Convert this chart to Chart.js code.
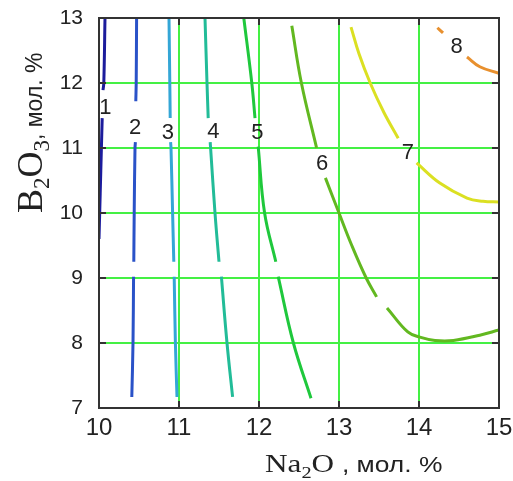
<!DOCTYPE html>
<html>
<head>
<meta charset="utf-8">
<script src="https://cdn.jsdelivr.net/npm/chart.js@4.4.1/dist/chart.umd.min.js"></script>
<style>
body { margin: 0; background: #fff; }
</style>
</head>
<body>
<canvas id="chart" width="513" height="481"></canvas>
<script>
const xTicks = [10, 11, 12, 13, 14, 15]
const yTicks = [7, 8, 9, 10, 11, 12, 13]

// contour lines, null = break in the line
const line1X = [10.075, 10.06, 10.05, null, 10.04, 10.03, 10.015, 10.0]
const line1Y = [13, 12.0, 11.89, null, 11.46, 11.0, 10.3, 9.6]

const line2X = [10.47, 10.465, 10.46, null, 10.455, 10.45, 10.44, 10.435, null, 10.432, 10.425, 10.41]
const line2Y = [13, 12, 11.72, null, 11.09, 11.0, 10.0, 9.25, null, 9.02, 8.0, 7.17]

const line3X = [10.875, 10.885, 10.89, null, 10.895, 10.9, 10.92, 10.935, null, 10.94, 10.955, 10.975]
const line3Y = [13, 12, 11.46, null, 11.09, 11.0, 10.0, 9.25, null, 9.02, 8.0, 7.17]

const line4X = [11.325, 11.35, 11.365, null, 11.39, 11.395, 11.45, 11.5, null, 11.53, 11.6, 11.67]
const line4Y = [13, 12, 11.46, null, 11.09, 11.0, 10.0, 9.25, null, 9.02, 8.0, 7.17]

const line5X = [11.81, 11.91, 11.95, null, 11.99, 12.07, 12.21, null, 12.24, 12.43, 12.65]
const line5Y = [13, 12, 11.46, null, 11.02, 10.0, 9.25, null, 9.02, 8.0, 7.15]

const line6X = [12.41, 12.53, 12.72, null, 12.83, 13.0, 13.16, 13.34, 13.47, null, 13.6, 13.86, 14.01, 14.2, 14.43, 14.76, 15.0]
const line6Y = [12.88, 12.0, 11.0, null, 10.54, 10.0, 9.5, 9.0, 8.71, null, 8.54, 8.17, 8.09, 8.04, 8.04, 8.12, 8.2]

const line7X = [13.15, 13.25, 13.39, 13.56, 13.74, null, 13.97, 14.26, 14.6, 14.8, 15.0]
const line7Y = [12.86, 12.45, 12.0, 11.55, 11.15, null, 10.77, 10.46, 10.23, 10.18, 10.17]

const line8X = [14.23, 14.3, null, 14.6, 14.76, 15.0]
const line8Y = [12.85, 12.77, null, 12.4, 12.25, 12.15]

const lineColors = ['#1c1c9c', '#2a52c8', '#34a6d6', '#22bc98', '#1fc83c', '#62b820', '#dbe022', '#e8902e']

// contour level labels
const labelText = ['1', '2', '3', '4', '5', '6', '7', '8']
const labelX = [10.08, 10.45, 10.86, 11.43, 11.98, 12.79, 13.86, 14.47]
const labelY = [11.62, 11.31, 11.23, 11.25, 11.23, 10.75, 10.92, 12.55]

const sans = 'Arial, "Liberation Sans", sans-serif'
const serif = '"Times New Roman", "Liberation Serif", serif'

const lines = [
    [line1X, line1Y], [line2X, line2Y], [line3X, line3Y], [line4X, line4Y],
    [line5X, line5Y], [line6X, line6Y], [line7X, line7Y], [line8X, line8Y]
]

const datasets = lines.map(function(l, i) {
    return {
        data: l[0].map((x, j) => ({ x: x, y: l[1][j] })),
        showLine: true,
        spanGaps: false,
        borderColor: lineColors[i],
        borderWidth: 3,
        tension: 0.4,
        pointRadius: 0
    }
})

function drawParts(ctx, parts) {
    let pos = 0
    parts.forEach(function(p) {
        ctx.font = p.font
        ctx.fillText(p.text, pos, p.dy || 0)
        pos += ctx.measureText(p.text).width
    })
}

const decor = {
    id: 'decor',
    afterDatasetsDraw(chart) {
        const ctx = chart.ctx
        const a = chart.chartArea
        const x = chart.scales.x
        const y = chart.scales.y
        ctx.save()

        // level numbers
        ctx.fillStyle = '#222'
        ctx.font = '22px ' + sans
        ctx.textAlign = 'center'
        ctx.textBaseline = 'middle'
        labelText.forEach(function(t, i) {
            ctx.fillText(t, x.getPixelForValue(labelX[i]), y.getPixelForValue(labelY[i]))
        })

        // frame and inward tick marks
        ctx.strokeStyle = '#333'
        ctx.lineWidth = 2
        ctx.strokeRect(a.left, a.top, a.right - a.left, a.bottom - a.top)
        ctx.beginPath()
        xTicks.slice(1, -1).forEach(function(v) {
            const px = x.getPixelForValue(v)
            ctx.moveTo(px, a.top); ctx.lineTo(px, a.top + 7)
            ctx.moveTo(px, a.bottom); ctx.lineTo(px, a.bottom - 7)
        })
        yTicks.slice(1, -1).forEach(function(v) {
            const py = y.getPixelForValue(v)
            ctx.moveTo(a.left, py); ctx.lineTo(a.left + 7, py)
            ctx.moveTo(a.right, py); ctx.lineTo(a.right - 7, py)
        })
        ctx.stroke()

        // axis titles
        ctx.textAlign = 'left'
        ctx.textBaseline = 'alphabetic'
        ctx.save()
        ctx.translate(265, 472)
        ctx.scale(1.2, 1)
        drawParts(ctx, [
            { text: 'Na', font: '26px ' + serif },
            { text: '2', font: '17px ' + serif, dy: 6 },
            { text: 'O ', font: '26px ' + serif },
            { text: ', мол. %', font: '22px ' + sans }
        ])
        ctx.restore()

        ctx.save()
        ctx.translate(42, 213)
        ctx.rotate(-Math.PI / 2)
        drawParts(ctx, [
            { text: 'B', font: '36px ' + serif },
            { text: '2', font: '23px ' + serif, dy: 7 },
            { text: 'O', font: '36px ' + serif },
            { text: '3', font: '23px ' + serif, dy: 7 },
            { text: ', мол. %', font: '23px ' + sans }
        ])
        ctx.restore()

        ctx.restore()
    }
}

const gridGreen = '#44f044'

new Chart(document.getElementById('chart'), {
    type: 'scatter',
    data: { datasets: datasets },
    options: {
        responsive: false,
        animation: false,
        layout: { padding: { top: 18, right: 14, left: 0, bottom: 0 } },
        plugins: {
            legend: { display: false },
            tooltip: { enabled: false }
        },
        scales: {
            x: {
                type: 'linear',
                min: 10,
                max: 15,
                afterBuildTicks: function(s) { s.ticks = xTicks.map(v => ({ value: v })) },
                afterFit: function(s) {
                    s.height = 73
                    s.paddingLeft = 0
                    s.paddingRight = 0
                },
                grid: { color: gridGreen, lineWidth: 2, drawTicks: false },
                border: { display: false },
                ticks: { padding: 6, color: '#222', font: { size: 24, family: sans } }
            },
            y: {
                type: 'linear',
                min: 7,
                max: 13,
                afterBuildTicks: function(s) { s.ticks = yTicks.map(v => ({ value: v })) },
                afterFit: function(s) {
                    s.width = 99
                    s.paddingTop = 0
                    s.paddingBottom = 0
                },
                grid: { color: gridGreen, lineWidth: 2, drawTicks: false },
                border: { display: false },
                ticks: { padding: 16, color: '#222', font: { size: 21, family: sans } }
            }
        }
    },
    plugins: [decor]
})
</script>
</body>
</html>
